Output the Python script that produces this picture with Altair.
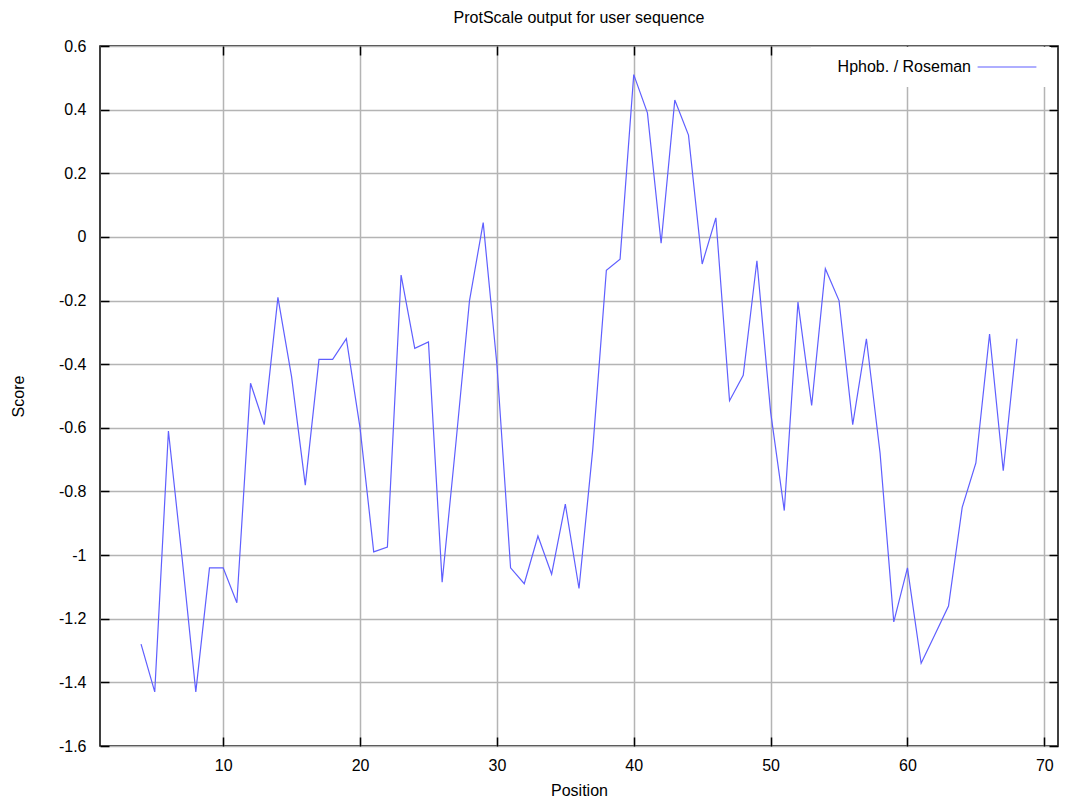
import altair as alt
import pandas as pd

positions = list(range(4, 69))
scores = [
    -1.28, -1.43, -0.61, -1.01, -1.43, -1.04, -1.04, -1.15, -0.46, -0.59,
    -0.19, -0.44, -0.78, -0.385, -0.385, -0.32, -0.60, -0.99, -0.975, -0.12,
    -0.35, -0.33, -1.085, -0.65, -0.20, 0.045, -0.40, -1.04, -1.09, -0.94,
    -1.06, -0.84, -1.105, -0.67, -0.105, -0.07, 0.51, 0.39, -0.02, 0.43,
    0.32, -0.085, 0.06, -0.515, -0.435, -0.075, -0.55, -0.86, -0.205, -0.53,
    -0.10, -0.20, -0.59, -0.32, -0.68, -1.21, -1.04, -1.34, -1.25, -1.16,
    -0.85, -0.71, -0.305, -0.735, -0.32,
]
series_name = "Hphob. / Roseman"
x_ticks = [10, 20, 30, 40, 50, 60, 70]
y_ticks = [0.6, 0.4, 0.2, 0, -0.2, -0.4, -0.6, -0.8, -1, -1.2, -1.4, -1.6]

df = pd.DataFrame({
    "Position": positions,
    "Score": scores,
    "series": [series_name] * len(positions),
})

FONT = "Liberation Sans"
LINE = "#5f5fff"
xscale = alt.Scale(domain=[1, 71], nice=False, zero=False)
yscale = alt.Scale(domain=[-1.6, 0.6], nice=False, zero=False)
INWARD = {"expr": "-9"}

main = alt.Chart(df).mark_line(strokeWidth=1.2).encode(
    x=alt.X(
        "Position:Q", scale=xscale,
        axis=alt.Axis(
            values=x_ticks, title="Position", labelFontSize=16, titleFontSize=16,
            labelPadding=20, tickSize=INWARD, tickColor="black", tickWidth=1.5,
            domain=False, titlePadding=9,
            labelFont=FONT, titleFont=FONT, titleFontWeight="normal",
            labelColor="black", titleColor="black",
        ),
    ),
    y=alt.Y(
        "Score:Q", scale=yscale,
        axis=alt.Axis(
            values=y_ticks, title="Score", labelFontSize=16, titleFontSize=16,
            labelPadding=23, tickSize=INWARD, tickColor="black", tickWidth=1.5,
            domain=False, titlePadding=32,
            labelFont=FONT, titleFont=FONT, titleFontWeight="normal",
            labelColor="black", titleColor="black",
            labelExpr="replace(format(datum.value, '.1~f'), '\u2212', '-')",
        ),
    ),
    color=alt.Color(
        "series:N",
        scale=alt.Scale(range=[LINE]),
        legend=alt.Legend(
            title=None, orient="none", legendX=711, legendY=1,
            fillColor="white", padding=12,
            symbolType="M-4.2,0H4.2", symbolSize=196, symbolStrokeWidth=1.2,
            symbolOffset=176, labelAlign="right", labelOffset={"expr": "-44"},
            labelFontSize=16, labelFont=FONT, labelColor="black",
        ),
    ),
)

mirror = alt.Chart(df).mark_line(opacity=0).encode(
    x=alt.X(
        "Position:Q", scale=xscale,
        axis=alt.Axis(
            orient="top", values=x_ticks, title=None, labels=False, grid=False,
            domain=False, tickSize=INWARD, tickColor="black", tickWidth=1.5,
        ),
    ),
    y=alt.Y(
        "Score:Q", scale=yscale,
        axis=alt.Axis(
            orient="right", values=y_ticks, title=None, labels=False, grid=False,
            domain=False, tickSize=INWARD, tickColor="black", tickWidth=1.5,
        ),
    ),
)

chart = alt.layer(main, mirror).resolve_scale(
    x="independent", y="independent"
).properties(
    width=958,
    height=700,
    title=alt.TitleParams(
        "ProtScale output for user sequence", fontSize=16, font=FONT,
        fontWeight="normal", color="black", offset=12, anchor="middle",
    ),
    autosize=alt.AutoSizeParams(type="none"),
    padding={"left": 100, "top": 46, "right": 8, "bottom": 55},
).configure_view(
    stroke="black", strokeWidth=1.5
).configure_axis(
    gridColor="#b4b4b4", gridWidth=1.5, gridOpacity=1
)

chart.save("out.html", embed_options={"renderer": "svg", "actions": False})
